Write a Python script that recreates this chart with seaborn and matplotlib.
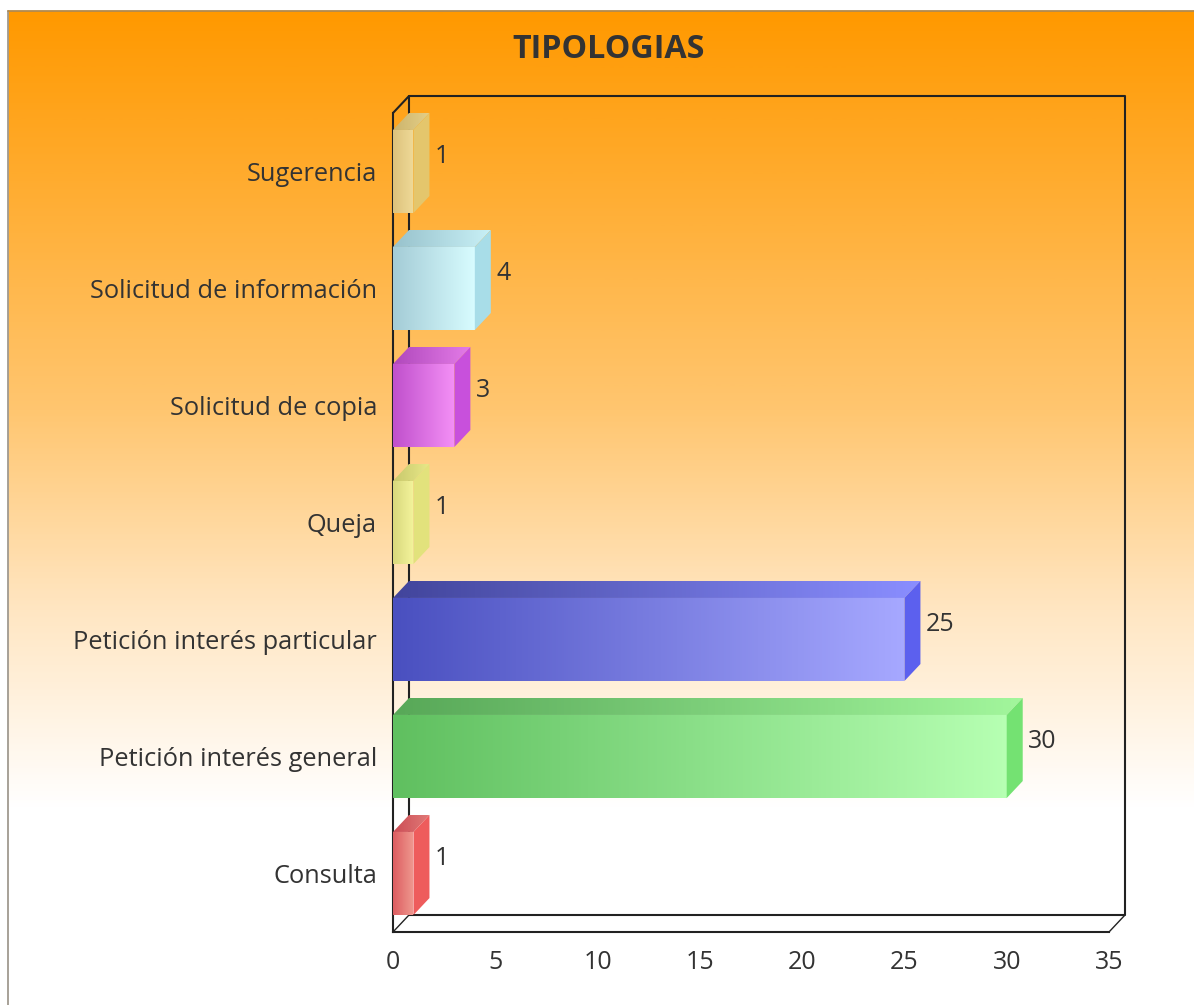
import numpy as np
import pandas as pd
import seaborn as sns
import matplotlib
matplotlib.use("Agg")
import matplotlib.pyplot as plt
from matplotlib.colors import LinearSegmentedColormap, to_rgb
from matplotlib.lines import Line2D
from matplotlib.patches import Polygon

categories = ["Sugerencia", "Solicitud de información", "Solicitud de copia", "Queja",
              "Petición interés particular", "Petición interés general", "Consulta"]
values = [1, 4, 3, 1, 25, 30, 1]
x_ticks = [0, 5, 10, 15, 20, 25, 30, 35]
title = "TIPOLOGIAS"

front_left = ["#dcc27c", "#a4ccd6", "#c050cc", "#d8d87c", "#4a50c0", "#60c060", "#dc5c60"]
front_right = ["#f0da98", "#d8fcff", "#f490f6", "#f4f49c", "#a6a8ff", "#b6ffb2", "#f09a90"]
side_colors = ["#e4c66c", "#a8dde8", "#c850dc", "#e2e27c", "#5c60ee", "#74e272", "#ee5c5c"]
top_left = ["#ccb46c", "#98c2cc", "#b048bc", "#c8c86c", "#42459c", "#58a858", "#cc4c54"]
top_right = ["#e4cf88", "#c8f0f6", "#e47ce8", "#e8e888", "#8a8eff", "#a2f69c", "#e07a78"]

W, H = 1194, 1005
AX_L, AX_R, AX_T, AX_B = 393, 1109, 113, 932
DEPTH_X, DEPTH_Y = 16, 17
TEXT = "#333333"

sns.set_theme(style="white")
plt.rcParams["font.family"] = ["Open Sans", "DejaVu Sans"]

fig = plt.figure(figsize=(W / 100, H / 100), dpi=100, facecolor="white")

# page background with its vertical fade
bg = fig.add_axes([0, 0, 1, 1], zorder=0)
bg.set_axis_off()
fade = LinearSegmentedColormap.from_list(
    "fade", [(0, "#ff9900"), (0.5, "#ffc670"), (0.75, "#ffe6c2"), (1, "#ffffff")])
bg.imshow(np.linspace(0, 1, 400).reshape(-1, 1), cmap=fade, aspect="auto",
          extent=(8, W, 810, 11), interpolation="bilinear")
bg.set_xlim(0, W)
bg.set_ylim(H, 0)
bg.add_line(Line2D([7.5, 7.5], [11, H], color="#a09a90", lw=1.3))
bg.add_line(Line2D([7.5, W], [10.5, 10.5], color="#b08a50", lw=1.3))

ax = fig.add_axes([AX_L / W, 1 - AX_B / H, (AX_R - AX_L) / W, (AX_B - AX_T) / H], zorder=1)
ax.patch.set_alpha(0)

df = pd.DataFrame({"categoria": categories, "valor": values})
sns.barplot(data=df, y="categoria", x="valor", hue="categoria", palette=front_right,
            legend=False, width=0.71, ax=ax, saturation=1)
ax.set_xlim(0, 35)
ax.set_ylim(6.5, -0.5)
xlim, ylim = ax.get_xlim(), ax.get_ylim()
px_x = (xlim[1] - xlim[0]) / (AX_R - AX_L)
px_y = (ylim[0] - ylim[1]) / (AX_B - AX_T)
dx = DEPTH_X * px_x
dy = DEPTH_Y * px_y


def gradient(poly, c0, c1, zorder):
    xs, ys = zip(*poly)
    cm = LinearSegmentedColormap.from_list("g", [to_rgb(c0), to_rgb(c1)])
    im = ax.imshow(np.linspace(0, 1, 128).reshape(1, -1), cmap=cm, aspect="auto",
                   extent=(min(xs), max(xs), max(ys), min(ys)), zorder=zorder,
                   interpolation="bilinear")
    clip = Polygon(poly, transform=ax.transData, closed=True)
    im.set_clip_path(clip)


bars = list(ax.patches)
for i, b in enumerate(bars):
    x1 = b.get_width()
    y0, y1 = b.get_y(), b.get_y() + b.get_height()
    b.set_zorder(3)
    b.set_edgecolor("none")
    b.set_linewidth(0)
    gradient([(0, y0), (x1, y0), (x1, y1), (0, y1)], front_left[i], front_right[i], 4)
    gradient([(0, y0), (x1, y0), (x1 + dx, y0 - dy), (dx, y0 - dy)], top_left[i], top_right[i], 4)
    ax.add_patch(Polygon([(x1, y0), (x1 + dx, y0 - dy), (x1 + dx, y1 - dy), (x1, y1)],
                         closed=True, fc=side_colors[i], ec="none", zorder=4, clip_on=False))
    ax.text(x1 + dx + 5.5 * px_x, (y0 + y1) / 2 - dy + 2 * px_y, str(values[i]), va="center",
            ha="left", fontsize=18, color=TEXT, zorder=6, clip_on=False)

ax.set_xlim(xlim)
ax.set_ylim(ylim)

# wall frame of the 3D box, tied to the axis limits
line = dict(color="#222222", lw=1.5, clip_on=False, zorder=2)
xa, xb = xlim
yb, yt = ylim
ax.plot([xa + dx, xa + dx, xb + dx, xb + dx, xa + dx],
        [yb - dy, yt - dy, yt - dy, yb - dy, yb - dy], **line)
ax.plot([xa, xa + dx], [yt, yt - dy], **line)
ax.plot([xa, xa + dx], [yb, yb - dy], **{**line, "lw": 1})
ax.plot([xb, xb + dx], [yb, yb - dy], **{**line, "lw": 1})

sns.despine(ax=ax, top=True, right=True)
for s in ("left", "bottom"):
    ax.spines[s].set_color("#222222")
    ax.spines[s].set_linewidth(1.5)
ax.set_xticks(x_ticks)
ax.set_xlabel("")
ax.set_ylabel("")
ax.tick_params(axis="x", length=0, pad=13, labelsize=18, labelcolor=TEXT)
ax.tick_params(axis="y", length=0, pad=11.5, labelsize=18.25, labelcolor=TEXT)

fig.text(609 / W, 1 - 49 / H, title, ha="center", va="center", fontsize=23.2,
         fontweight="bold", color=TEXT, zorder=5)

fig.savefig("out.png", dpi=100, facecolor="white")
